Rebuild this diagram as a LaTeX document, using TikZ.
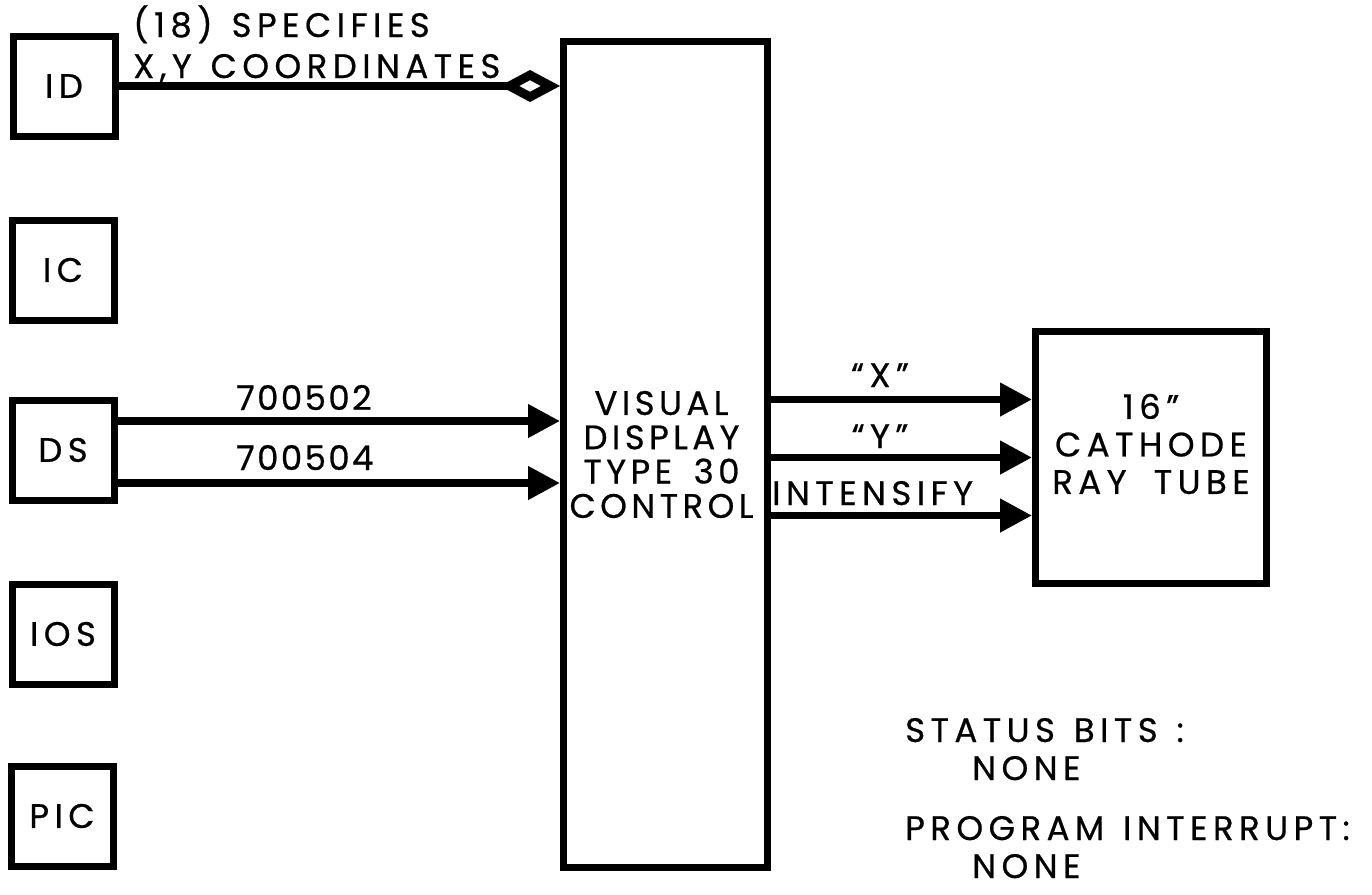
\documentclass[tikz,border=0pt]{standalone}
\usepackage{fontspec}
\setmainfont{Poppins}[LetterSpace=16, FakeBold=0.6, WordSpace=1.3]
\newfontfamily\digitfont{Poppins}[LetterSpace=7, FakeBold=0.6]
\newfontfamily\ctlfont{Poppins}[LetterSpace=13, FakeBold=0.6, WordSpace=1.6]
\usetikzlibrary{arrows.meta, positioning}

\begin{document}
\begin{tikzpicture}[
      x=1pt, y=-1pt,
      font = \fontsize{34}{34.3}\selectfont,
      dev/.style = {draw, line width=7pt, minimum width=102pt, minimum height=100pt, inner sep=0pt},
      blk/.style = {draw, line width=7pt, inner sep=0pt},
      sig/.style = {-{Triangle[length=32pt, width=32pt]}, line width=7.5pt},
      lbl/.style = {anchor=base west, inner sep=0pt}
   ]
   \useasboundingbox (0,0) rectangle (1372,894);

   % units on the I/O bus
   \node[dev] (id)  at (64,86)  {ID};
   \node[dev] (ic)  at (63,270) {IC};
   \node[dev] (ds)  at (63,450) {DS};
   \node[dev] (ios) at (63,634) {IOS};
   \node[dev] (pic) at (62,816) {PIC};

   \node[blk, minimum width=204pt, minimum height=826pt] (ctl) at (665.5,454.5) {};
   \node[align=center, inner sep=0pt, font=\ctlfont\fontsize{34}{34.3}\selectfont] (ctltxt)
        at ([xshift=-4pt]ctl.center) {VISUAL\\DISPLAY\\TYPE 30\\CONTROL};
   \node[blk, minimum width=231pt, minimum height=252pt] (crt) at (1151,457.5) {};
   \node[align=center, inner sep=0pt, font=\fontsize{34}{37.5}\selectfont] (crttxt) at (1151,444)
        {16”\\CATHODE\\RAY\hspace{0.8em}TUBE};

   % ID -> control
   \draw[line width=7.5pt, -{Diamond[open, length=60pt, width=32pt, line width=9pt]}] (id.east) -- (ctl.west |- id.east);
   \node[lbl] (spec1) at (133,37) {(18) SPECIFIES};
   \node[lbl] (spec2) at (133,78) {X,Y COORDINATES};

   % DS -> control
   \coordinate (dsa) at ([yshift=29pt]ds.east);
   \coordinate (dsb) at ([yshift=-33pt]ds.east);
   \draw[sig] (dsa) -- (dsa -| ctl.west);
   \draw[sig] (dsb) -- (dsb -| ctl.west);
   \node[lbl, font=\digitfont\fontsize{34}{34}\selectfont] (c502) at (236,410) {700502};
   \node[lbl, font=\digitfont\fontsize{34}{34}\selectfont] (c504) at (236,470) {700504};

   % control -> crt
   \coordinate (xin) at ([yshift=58pt]crt.west);
   \coordinate (zin) at ([yshift=-58pt]crt.west);
   \draw[sig] (xin -| ctl.east) -- (xin);
   \draw[sig] (crt.west -| ctl.east) -- (crt.west);
   \draw[sig] (zin -| ctl.east) -- (zin);
   \node[anchor=base, inner sep=0pt] (xlbl) at (880,387) {“X”};
   \node[anchor=base, inner sep=0pt] (ylbl) at (880,448) {“Y”};
   \node[lbl] (zlbl) at (772,505) {INTENSIFY};

   \node[lbl] (st1) at (905,742) {STATUS BITS :};
   \node[lbl] (st2) at (972,780) {NONE};
   \node[lbl] (pi1) at (905,840) {PROGRAM INTERRUPT:};
   \node[lbl] (pi2) at (972,878) {NONE};
\end{tikzpicture}
\end{document}
